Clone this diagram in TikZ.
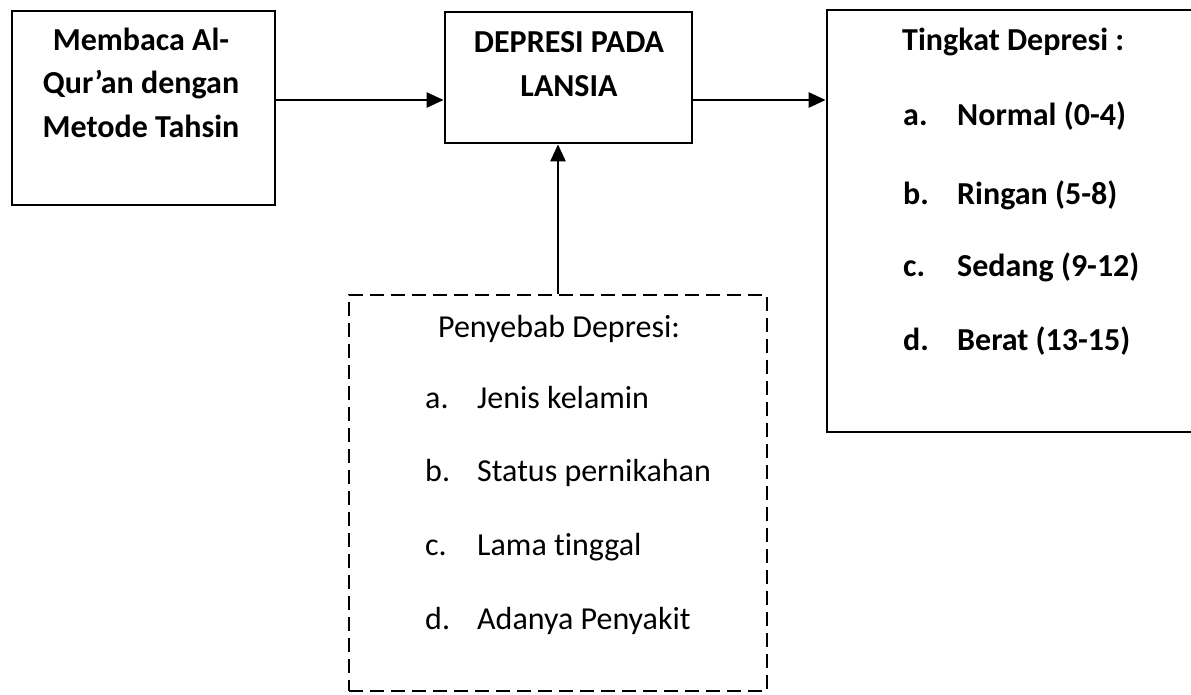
\documentclass[tikz,border=0pt]{standalone}
\usepackage{fontspec}
\setmainfont{Carlito}[Ligatures=NoCommon]
\usetikzlibrary{arrows.meta,positioning}

\tikzset{
    box/.style={draw, line width=2.8pt, inner sep=0pt},
    dashbox/.style={draw, line width=2.8pt, inner sep=0pt, dash pattern=on 14pt off 7pt},
    arr/.style={line width=2.6pt, -{Triangle[length=17pt,width=15pt]}},
    txt/.style={font=\fontsize{32}{36}\selectfont, text height=0.7em, text depth=0.2em, inner sep=0pt},
    btxt/.style={txt, font=\fontsize{32}{36}\selectfont\bfseries},
}

\begin{document}
\begin{tikzpicture}[x=1pt, y=-1pt]
    \clip (0,0) rectangle (1191,694);
    % \draw[help lines] (0,0) grid[step=50] (1191,694);

    \node[box, minimum width=263pt, minimum height=194pt] (tahsin) at (143.5,108) {};
    \node[box, minimum width=247pt, minimum height=131pt] (depresi) at (568.5,77.5) {};
    \node[box, minimum width=388pt, minimum height=422pt] (tingkat) at (1021,221) {};
    \node[dashbox, minimum width=418pt, minimum height=396pt] (penyebab) at (558,493) {};

    \node[btxt] (t1) at (141,48) {Membaca Al-};
    \node[btxt] (t2) at (141,91) {Qur’an dengan};
    \node[btxt] (t3) at (141,135) {Metode Tahsin};

    \node[btxt] (d1) at (569,50) {DEPRESI PADA};
    \node[btxt] (d2) at (569,94) {LANSIA};

    \node[btxt, anchor=west] (k0) at (902,48) {Tingkat Depresi :};
    \foreach \i/\l/\t/\y in {1/a./Normal (0-4)/123, 2/b./Ringan (5-8)/202,
                             3/c./Sedang (9-12)/274, 4/d./Berat (13-15)/348} {
        \node[btxt, anchor=west] (kl\i) at (903,\y) {\l};
        \node[btxt, anchor=west] (kt\i) at (957,\y) {\t};
    }

    \node[txt] (p0) at (559,335) {Penyebab Depresi:};
    \foreach \i/\l/\t/\y in {1/a./Jenis kelamin/406, 2/b./Status pernikahan/479,
                             3/c./Lama tinggal/553, 4/d./Adanya Penyakit/627} {
        \node[txt, anchor=west] (pl\i) at (425,\y) {\l};
        \node[txt, anchor=west] (pt\i) at (477,\y) {\t};
    }

    \coordinate (mid) at (0,100);
    \draw[arr] (tahsin.east |- mid) -- (depresi.west |- mid);
    \draw[arr] (depresi.east |- mid) -- (tingkat.west |- mid);
    \draw[arr] (penyebab.north) -- (penyebab.north |- depresi.south);
\end{tikzpicture}
\end{document}
